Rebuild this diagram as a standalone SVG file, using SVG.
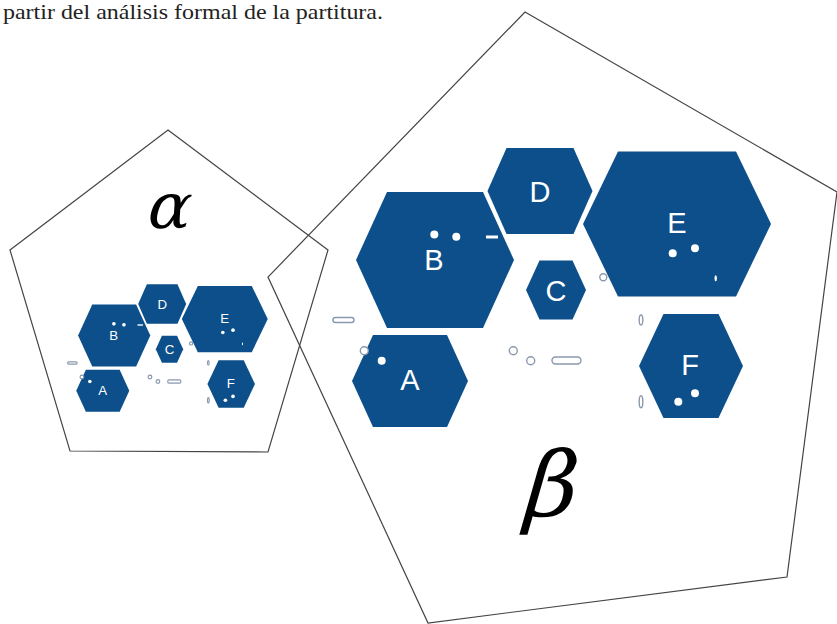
<svg xmlns="http://www.w3.org/2000/svg" width="837" height="624" viewBox="0 0 837 624">
<style>
.hex{fill:#0c4f8a}
.lbl{font-family:"Liberation Sans",Arial,sans-serif;font-size:29px;fill:#fff;text-anchor:middle}
.dot{fill:#fff}
.ol{fill:#fff;stroke:#8a98ae;stroke-width:1.4}
.small .ol{stroke-width:2.6}
.pent{fill:none;stroke:#444;stroke-width:1.2}
.greek{font-family:"DejaVu Serif",serif;font-style:normal;fill:#000;text-anchor:middle}
</style>
<rect width="837" height="624" fill="#fff"/>
<text x="3" y="19" font-family="'Liberation Serif','Times New Roman',serif" font-size="21" fill="#222" textLength="380" lengthAdjust="spacingAndGlyphs">partir del análisis formal de la partitura.</text>

<g id="beta-cluster">
  <g id="beta-B"><polygon class="hex" points="356,260 387,192 483,192 514,260 483,328 387,328"/><text class="lbl" x="434" y="270">B</text><circle class="dot" cx="434.3" cy="234.5" r="4"/><circle class="dot" cx="456.3" cy="236.7" r="4"/><rect class="dot" x="486" y="235.5" width="12" height="3"/></g>
  <g id="beta-D"><polygon class="hex" points="487.5,191 506.5,148 573.5,148 592.5,191 573.5,234 506.5,234"/><text class="lbl" x="540" y="201.5">D</text></g>
  <g id="beta-C"><polygon class="hex" points="526,290 539.5,260.5 572.5,260.5 586,290 572.5,319.5 539.5,319.5"/><text class="lbl" x="556" y="300.5">C</text></g>
  <g id="beta-A"><polygon class="hex" points="352,381 373,335 447,335 468,381 447,427 373,427"/><text class="lbl" x="410" y="390">A</text><circle class="ol" cx="364.3" cy="350.7" r="4"/><circle class="dot" cx="381.7" cy="360.7" r="4"/></g>
  <g id="beta-E"><polygon class="hex" points="583,224 618,151.5 736,151.5 771,224 736,296.5 618,296.5"/><text class="lbl" x="677" y="233">E</text><circle class="dot" cx="672.7" cy="253.3" r="4"/><circle class="dot" cx="695" cy="248.3" r="4"/><ellipse class="dot" cx="715.7" cy="278.3" rx="1.2" ry="3"/></g>
  <g id="beta-F"><polygon class="hex" points="639,366 663.5,314 718.5,314 743,366 718.5,418 663.5,418"/><text class="lbl" x="690" y="375">F</text><circle class="dot" cx="678.3" cy="401.7" r="4"/><circle class="dot" cx="695" cy="393.3" r="4"/></g>
  <g id="beta-marks">
    <rect class="ol" x="333" y="317.5" width="21" height="5" rx="2.5"/>
    <circle class="ol" cx="513.3" cy="350.7" r="4"/>
    <circle class="ol" cx="530.7" cy="360.7" r="4"/>
    <rect class="ol" x="552" y="357" width="29" height="7" rx="3.5"/>
    <circle class="ol" cx="603.3" cy="277.3" r="3.5"/>
    <ellipse class="ol" cx="641" cy="320" rx="1.8" ry="5"/>
    <ellipse class="ol" cx="641" cy="401.7" rx="1.8" ry="6"/>
  </g>
</g>

<g id="alpha-cluster" class="small" transform="translate(-84.6 216.7) scale(0.457)">
  <g id="alpha-B"><polygon class="hex" points="356,260 387,192 483,192 514,260 483,328 387,328"/><text class="lbl" x="434" y="270">B</text><circle class="dot" cx="434.3" cy="234.5" r="4"/><circle class="dot" cx="456.3" cy="236.7" r="4"/><rect class="dot" x="486" y="235.5" width="12" height="3"/></g>
  <g id="alpha-D"><polygon class="hex" points="487.5,191 506.5,148 573.5,148 592.5,191 573.5,234 506.5,234"/><text class="lbl" x="540" y="201.5">D</text></g>
  <g id="alpha-C"><polygon class="hex" points="526,290 539.5,260.5 572.5,260.5 586,290 572.5,319.5 539.5,319.5"/><text class="lbl" x="556" y="300.5">C</text></g>
  <g id="alpha-A"><polygon class="hex" points="352,381 373,335 447,335 468,381 447,427 373,427"/><text class="lbl" x="410" y="390">A</text><circle class="ol" cx="364.3" cy="350.7" r="4"/><circle class="dot" cx="381.7" cy="360.7" r="4"/></g>
  <g id="alpha-E"><polygon class="hex" points="583,224 618,151.5 736,151.5 771,224 736,296.5 618,296.5"/><text class="lbl" x="677" y="233">E</text><circle class="dot" cx="672.7" cy="253.3" r="4"/><circle class="dot" cx="695" cy="248.3" r="4"/><ellipse class="dot" cx="715.7" cy="278.3" rx="1.2" ry="3"/></g>
  <g id="alpha-F"><polygon class="hex" points="639,366 663.5,314 718.5,314 743,366 718.5,418 663.5,418"/><text class="lbl" x="690" y="375">F</text><circle class="dot" cx="678.3" cy="401.7" r="4"/><circle class="dot" cx="695" cy="393.3" r="4"/></g>
  <g id="alpha-marks">
    <rect class="ol" x="333" y="317.5" width="21" height="5" rx="2.5"/>
    <circle class="ol" cx="513.3" cy="350.7" r="4"/>
    <circle class="ol" cx="530.7" cy="360.7" r="4"/>
    <rect class="ol" x="552" y="357" width="29" height="7" rx="3.5"/>
    <circle class="ol" cx="603.3" cy="277.3" r="3.5"/>
    <ellipse class="ol" cx="641" cy="320" rx="1.8" ry="5"/>
    <ellipse class="ol" cx="641" cy="401.7" rx="1.8" ry="6"/>
  </g>
</g>

<g id="alpha">
  <polygon class="pent" points="168,130 328,250 268,452 70,451 10,250"/>
  <text class="greek" transform="translate(165 228) skewX(-16)" x="0" y="0" font-size="64">α</text>
</g>
<g id="beta">
  <polygon class="pent" points="525,12 837,192 787,577 428,623 268,277"/>
  <text class="greek" transform="translate(545 516) skewX(-16)" x="0" y="0" font-size="90">β</text>
</g>
</svg>
